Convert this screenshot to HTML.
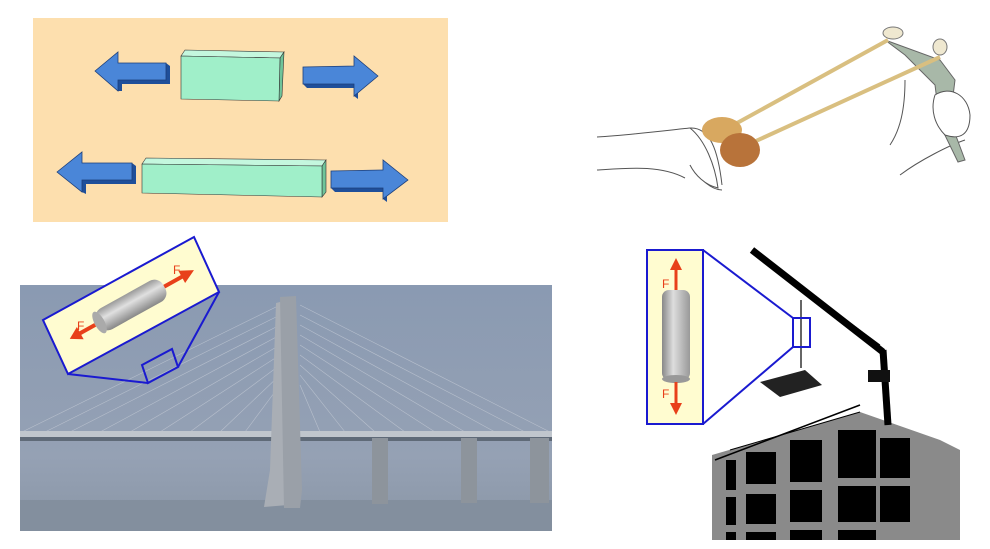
<!DOCTYPE html>
<html><head><meta charset="utf-8"><style>html,body{margin:0;padding:0;background:#fff;width:990px;height:549px;overflow:hidden}</style></head>
<body>
<svg width="990" height="549" viewBox="0 0 990 549" xmlns="http://www.w3.org/2000/svg" font-family="Liberation Sans, sans-serif">
<defs>
<linearGradient id="cylH" x1="0" y1="0" x2="1" y2="0"><stop offset="0" stop-color="#888"/><stop offset="0.4" stop-color="#ddd"/><stop offset="1" stop-color="#999"/></linearGradient>
<linearGradient id="cylR" x1="0" y1="0" x2="0" y2="1"><stop offset="0" stop-color="#999"/><stop offset="0.4" stop-color="#e0e0e0"/><stop offset="1" stop-color="#888"/></linearGradient>
<linearGradient id="sky" x1="0" y1="0" x2="0" y2="1"><stop offset="0" stop-color="#8a9ab2"/><stop offset="0.7" stop-color="#95a1b4"/><stop offset="1" stop-color="#8a96a6"/></linearGradient>
</defs>
<!-- top-left panel -->
<rect x="33" y="18" width="415" height="204" fill="#fddfae"/>
<polygon points="181,56 185,50 284,52 280,58" fill="#c4f7de" stroke="#333" stroke-width="0.6"/>
<polygon points="280,58 284,52 282,96 279,101" fill="#6fc49a" stroke="#333" stroke-width="0.6"/>
<polygon points="181,56 280,58 279,101 181,99" fill="#a0efc9" stroke="#333" stroke-width="0.6"/>
<polygon points="142,164 146,158 326,160 322,166" fill="#c4f7de" stroke="#333" stroke-width="0.6"/>
<polygon points="322,166 326,160 326,192 322,197" fill="#6fc49a" stroke="#333" stroke-width="0.6"/>
<polygon points="142,164 322,166 322,197 142,193" fill="#a0efc9" stroke="#333" stroke-width="0.6"/>
<g fill="#1f4f9a">
<polygon points="118,91 122,91 122,84 170,84 170,66 166,63 166,80 118,80"/>
<polygon points="303,84 307,88 358,88 358,99 354,96 354,84"/>
<polygon points="82,192 86,194 86,184 136,184 136,166 132,163 132,180 82,180"/>
<polygon points="331,188 335,192 387,192 387,202 383,199 383,188"/>
</g>
<g fill="#4a86d8" stroke="#1d3f7a" stroke-width="0.8">
<polygon points="95,71 118,52 118,63 166,63 166,80 118,80 118,91"/>
<polygon points="378,76 354,56 354,66 303,67 303,84 354,84 354,96"/>
<polygon points="57,172 82,152 82,163 132,163 132,180 82,180 82,192"/>
<polygon points="408,180 383,160 383,170 331,171 331,188 383,188 383,199"/>
</g>
<!-- slingshot -->
<g fill="none" stroke="#555" stroke-width="1">
<path d="M597,137 C630,135 670,130 690,128 C710,127 718,150 722,185"/>
<path d="M597,170 C630,168 660,165 685,178"/>
<path d="M690,165 C700,180 712,190 722,190"/>
<path d="M890,145 C900,130 905,110 905,80"/>
<path d="M900,175 C920,160 950,145 965,140"/>
</g>
<path d="M885,40 L940,60 L955,80 L950,120 L965,160 L958,162 L940,125 L935,85 L905,55 Z" fill="#a8b8a8" stroke="#666"/>
<ellipse cx="893" cy="33" rx="10" ry="6" fill="#efe8d0" stroke="#777"/>
<ellipse cx="940" cy="47" rx="7" ry="8" fill="#efe8d0" stroke="#777"/>
<path d="M935,95 C950,85 968,95 970,115 C970,135 960,140 945,135 C935,125 930,110 935,95Z" fill="#fff" stroke="#555"/>
<line x1="728" y1="128" x2="888" y2="40" stroke="#d9bf80" stroke-width="4"/>
<line x1="745" y1="146" x2="940" y2="57" stroke="#d9bf80" stroke-width="4"/>
<ellipse cx="722" cy="130" rx="20" ry="13" fill="#d8a860"/>
<ellipse cx="740" cy="150" rx="20" ry="17" fill="#b8733a"/>
<path d="M690,128 C705,140 715,165 718,188 C705,185 695,175 690,165" fill="#fff" stroke="#555"/>
<!-- bridge photo -->
<rect x="20" y="285" width="532" height="246" fill="url(#sky)"/>
<rect x="20" y="500" width="532" height="31" fill="#838f9e"/>
<g stroke="#c8ced8" stroke-width="0.6" opacity="0.7">
<line x1="280" y1="305" x2="22" y2="432"/><line x1="280" y1="315" x2="45" y2="432"/><line x1="280" y1="325" x2="70" y2="432"/><line x1="280" y1="335" x2="100" y2="432"/><line x1="280" y1="345" x2="130" y2="432"/><line x1="280" y1="355" x2="160" y2="432"/><line x1="280" y1="365" x2="190" y2="432"/><line x1="280" y1="375" x2="220" y2="432"/><line x1="280" y1="385" x2="245" y2="432"/>
<line x1="300" y1="305" x2="550" y2="432"/><line x1="300" y1="315" x2="525" y2="432"/><line x1="300" y1="325" x2="495" y2="432"/><line x1="300" y1="335" x2="465" y2="432"/><line x1="300" y1="345" x2="435" y2="432"/><line x1="300" y1="355" x2="405" y2="432"/><line x1="300" y1="365" x2="375" y2="432"/><line x1="300" y1="375" x2="345" y2="432"/><line x1="300" y1="385" x2="320" y2="432"/>
</g>
<rect x="20" y="431" width="532" height="7" fill="#c0c6cd"/>
<rect x="20" y="437" width="532" height="4" fill="#5f6a78"/>
<polygon points="276,303 288,300 288,505 264,507 270,470" fill="#a9aeb5"/>
<polygon points="280,297 296,296 302,490 300,508 284,508" fill="#9aa0a8"/>
<rect x="372" y="438" width="16" height="66" fill="#8d949c"/>
<rect x="461" y="438" width="16" height="65" fill="#8d949c"/>
<rect x="530" y="438" width="19" height="65" fill="#8d949c"/>
<!-- bridge callout -->
<g stroke="#1a1ad0" stroke-width="2" fill="none">
<polygon points="43,320 194,237 219,292 68,374" fill="#fffcd0"/>
<polygon points="142,365 172,349 178,367 148,383"/>
<line x1="68" y1="374" x2="148" y2="383"/><line x1="219" y1="292" x2="178" y2="367"/>
</g>
<g transform="translate(131,305) rotate(-29)">
<rect x="-38" y="-12" width="76" height="24" rx="10" fill="url(#cylR)"/>
<ellipse cx="-36" cy="0" rx="5" ry="12" fill="#aaa"/>
<line x1="-41" y1="0" x2="-60" y2="0" stroke="#e8401a" stroke-width="4"/><polygon points="-70,0 -58,-7 -58,7" fill="#e8401a"/>
<line x1="38" y1="0" x2="60" y2="0" stroke="#e8401a" stroke-width="4"/><polygon points="72,0 58,-7 58,7" fill="#e8401a"/>
</g>
<text x="77" y="330" font-size="12" fill="#e8401a">F</text>
<text x="173" y="274" font-size="12" fill="#e8401a">F</text>
<!-- building -->
<polygon points="712,455 860,412 940,440 960,450 960,540 712,540" fill="#8a8a8a"/>
<g fill="#000">
<rect x="726" y="460" width="10" height="30"/><rect x="746" y="452" width="30" height="32"/><rect x="790" y="440" width="32" height="42"/><rect x="838" y="430" width="38" height="48"/><rect x="880" y="438" width="30" height="40"/>
<rect x="726" y="497" width="10" height="28"/><rect x="746" y="494" width="30" height="30"/><rect x="790" y="490" width="32" height="32"/><rect x="838" y="486" width="38" height="36"/><rect x="880" y="486" width="30" height="36"/>
<rect x="726" y="532" width="10" height="8"/><rect x="746" y="532" width="30" height="8"/><rect x="790" y="530" width="32" height="10"/><rect x="838" y="530" width="38" height="10"/>
</g>
<g stroke="#000" fill="none">
<line x1="752" y1="250" x2="883" y2="352" stroke-width="7"/>
<line x1="752" y1="250" x2="880" y2="345" stroke-width="1"/>
<line x1="883" y1="350" x2="888" y2="425" stroke-width="7"/>
<line x1="801" y1="300" x2="801" y2="368" stroke-width="1.2"/>
<line x1="715" y1="460" x2="860" y2="405" stroke-width="1.5"/>
<line x1="730" y1="450" x2="860" y2="412" stroke-width="1"/>
</g>
<polygon points="760,382 805,370 822,385 780,397" fill="#222"/>
<rect x="868" y="370" width="22" height="12" fill="#111"/>
<g stroke="#1a1ad0" stroke-width="2" fill="none">
<rect x="647" y="250" width="56" height="174" fill="#fffcd0"/>
<rect x="793" y="318" width="17" height="29"/>
<line x1="703" y1="250" x2="793" y2="318"/><line x1="703" y1="424" x2="793" y2="347"/>
</g>
<rect x="662" y="290" width="28" height="90" rx="7" fill="url(#cylH)"/>
<ellipse cx="676" cy="379" rx="14" ry="4" fill="#999"/>
<line x1="676" y1="290" x2="676" y2="268" stroke="#e8401a" stroke-width="3"/><polygon points="676,258 670,270 682,270" fill="#e8401a"/>
<line x1="676" y1="382" x2="676" y2="405" stroke="#e8401a" stroke-width="3"/><polygon points="676,415 670,403 682,403" fill="#e8401a"/>
<text x="662" y="288" font-size="12" fill="#e8401a">F</text>
<text x="662" y="398" font-size="12" fill="#e8401a">F</text>
</svg>
</body></html>
